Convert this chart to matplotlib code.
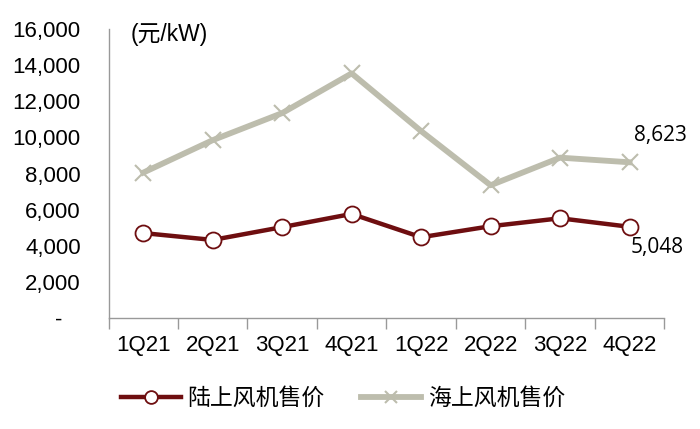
import matplotlib
matplotlib.use("Agg")
import matplotlib.pyplot as plt
from matplotlib.ticker import FixedLocator, FuncFormatter

plt.rcParams['font.family'] = ['Liberation Sans', 'Noto Sans CJK SC', 'DejaVu Sans']

categories = ['1Q21', '2Q21', '3Q21', '4Q21', '1Q22', '2Q22', '3Q22', '4Q22']
onshore = [4700, 4320, 5030, 5760, 4470, 5080, 5520, 5048]
offshore = [8050, 9850, 11350, 13550, 10350, 7350, 8880, 8623]
onshore_label = '陆上风机售价'
offshore_label = '海上风机售价'
yticks = [0, 2000, 4000, 6000, 8000, 10000, 12000, 14000, 16000]

red = '#6E0E10'
grey = '#BDBDAD'

fig = plt.figure(figsize=(7, 4.29), dpi=100)
ax = fig.add_axes([0.155, 0.259, 0.794, 0.673])

x = list(range(len(categories)))
l2, = ax.plot(x, offshore, color=grey, lw=4.2, marker='x', markersize=11,
              markeredgewidth=1.5, markeredgecolor=grey, label=offshore_label, zorder=2)
l1, = ax.plot(x, onshore, color=red, lw=3.2, marker='o', markersize=11.5,
              markerfacecolor='white', markeredgecolor=red, markeredgewidth=1.3,
              label=onshore_label, zorder=3)

ax.set_xlim(-0.5, len(categories) - 0.5)
ax.set_ylim(0, 16000)
ax.set_yticks(yticks)
ax.yaxis.set_major_formatter(FuncFormatter(lambda v, p: '-   ' if v == 0 else f'{int(v):,}'))
ax.tick_params(axis='y', length=0, labelsize=16, pad=20)

ax.set_xticks(x)
ax.set_xticklabels(categories)
ax.xaxis.set_minor_locator(FixedLocator([i - 0.5 for i in range(len(categories) + 1)]))
ax.tick_params(axis='x', which='major', length=0, labelsize=16, pad=12)
ax.tick_params(axis='x', which='minor', length=8, width=1, color='#999999', direction='out')

for s in ['top', 'right']:
    ax.spines[s].set_visible(False)
ax.spines['left'].set_color('#999999')
ax.spines['bottom'].set_color('#999999')
ax.spines['left'].set_linewidth(1)
ax.spines['bottom'].set_linewidth(1)

ax.text(0.04, 0.98, '(元/kW)', transform=ax.transAxes, fontsize=16.5,
        ha='left', va='center', family=['Liberation Sans', 'Noto Sans CJK SC'])
ax.annotate(f'{offshore[-1]:,}', (x[-1], offshore[-1]), xytext=(3, 19),
            textcoords='offset points', fontsize=15, ha='left', va='center',
            family=['Open Sans', 'DejaVu Sans'])
ax.annotate(f'{onshore[-1]:,}', (x[-1], onshore[-1]), xytext=(1, -15),
            textcoords='offset points', fontsize=15, ha='left', va='center',
            family=['Open Sans', 'DejaVu Sans'])

leg = fig.legend(handles=[l1, l2], loc='center', bbox_to_anchor=(0.49, 0.072), ncol=2,
                 frameon=False, prop={'family': ['Noto Sans CJK SC'], 'size': 16.5},
                 handlelength=2.6, columnspacing=1.6, handletextpad=0.3, markerscale=0.8)

fig.savefig('out.png', dpi=100)
